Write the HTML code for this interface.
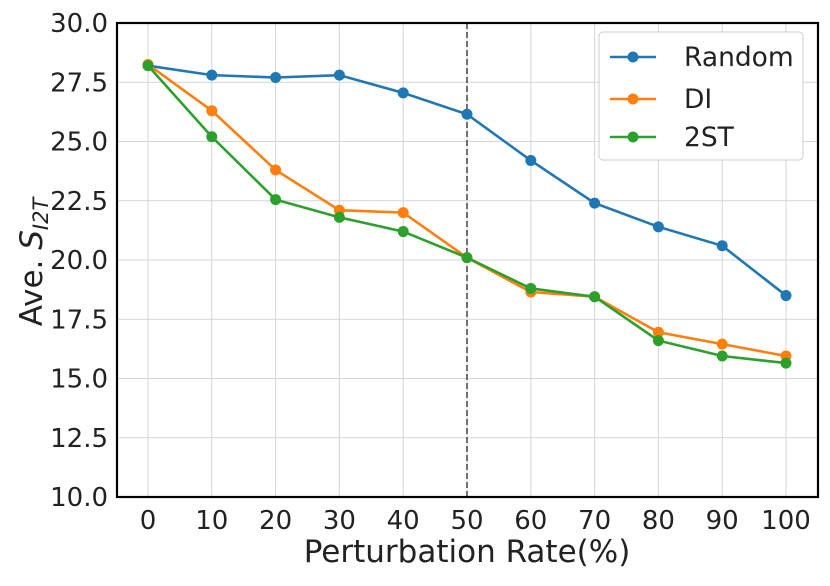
<!DOCTYPE html>
<html><head><meta charset="utf-8"><style>
body{margin:0;background:#fff}
svg text{font-family:"DejaVu Sans","Liberation Sans",sans-serif;fill:#222}
</style></head><body>
<svg id="chart" width="830" height="581" xmlns="http://www.w3.org/2000/svg"></svg>
<script>
const categories=[0,10,20,30,40,50,60,70,80,90,100];
const randomVals=[28.2,27.8,27.7,27.8,27.05,26.15,24.2,22.4,21.4,20.6,18.5];
const diVals=[28.25,26.3,23.8,22.1,22.0,20.1,18.65,18.45,16.95,16.45,15.95];
const stVals=[28.2,25.2,22.55,21.8,21.2,20.1,18.8,18.45,16.6,15.95,15.65];
const yTicks=[10.0,12.5,15.0,17.5,20.0,22.5,25.0,27.5,30.0];
const seriesNames=["Random","DI","2ST"];
const colors=["#1f77b4","#ff7f0e","#2ca02c"];

const NS="http://www.w3.org/2000/svg";
const svg=document.getElementById('chart');
const L=117,R=818,T=23,B=497;
const x=v=>148+(v-0)*(786-148)/100;
const y=v=>T+(30-v)*(B-T)/20;
function mk(tag,attrs,parent){const e=document.createElementNS(NS,tag);for(const k in attrs)e.setAttribute(k,attrs[k]);(parent||svg).appendChild(e);return e;}

yTicks.forEach(t=>{
  const g=mk('line',{x1:L,x2:R,y1:y(t),y2:y(t),stroke:'#d5d5d5','stroke-width':1});
  
  
  const tx=mk('text',{x:L-9,y:y(t)+9,'text-anchor':'end','font-size':26});
  tx.textContent=t.toFixed(1);
  
  
});
categories.forEach(c=>{
  const g=mk('line',{x1:x(c),x2:x(c),y1:T,y2:B,stroke:'#d5d5d5','stroke-width':1});
  
  
  const tx=mk('text',{x:x(c),y:B+32,'text-anchor':'middle','font-size':26});
  tx.textContent=c;
  
  
});
const vl=mk('line',{x1:x(50),x2:x(50),y1:T,y2:B,stroke:'#444','stroke-width':1.5,'stroke-dasharray':'6,3'});



[randomVals,diVals,stVals].forEach((vals,i)=>{
  const p=mk('polyline',{points:vals.map((v,j)=>x(categories[j])+','+y(v)).join(' '),fill:'none',stroke:colors[i],'stroke-width':2.6});
  
  
  vals.forEach((v,j)=>{
    const c=mk('circle',{cx:x(categories[j]),cy:y(v),r:5.5,fill:colors[i]});
    
    
  });
});

const frame=mk('rect',{x:L,y:T,width:R-L,height:B-T,fill:'none',stroke:'#000','stroke-width':2.2});



const lg=mk('g',{});


mk('rect',{x:599,y:32,width:204,height:128,rx:4,fill:'#fff',stroke:'#ccc','stroke-width':1},lg);
[57,99,137].forEach((ly,i)=>{
  const e=mk('g',{},lg);
  
  
  mk('line',{x1:610,x2:656,y1:ly,y2:ly,stroke:colors[i],'stroke-width':2.6},e);
  mk('circle',{cx:633,cy:ly,r:5.5,fill:colors[i]},e);
  const t=mk('text',{x:684,y:ly+9,'font-size':26.5},e);
  t.textContent=seriesNames[i];
});

const xl=mk('text',{x:467,y:562,'text-anchor':'middle','font-size':31});
xl.textContent='Perturbation Rate(%)';


const yl=mk('text',{x:0,y:0,'text-anchor':'middle','font-size':31,transform:'translate(42,262) rotate(-90)'});
yl.innerHTML='Ave. <tspan font-style="italic">S</tspan><tspan font-style="italic" font-size="21" dy="6">I2T</tspan>';


</script>
</body></html>
